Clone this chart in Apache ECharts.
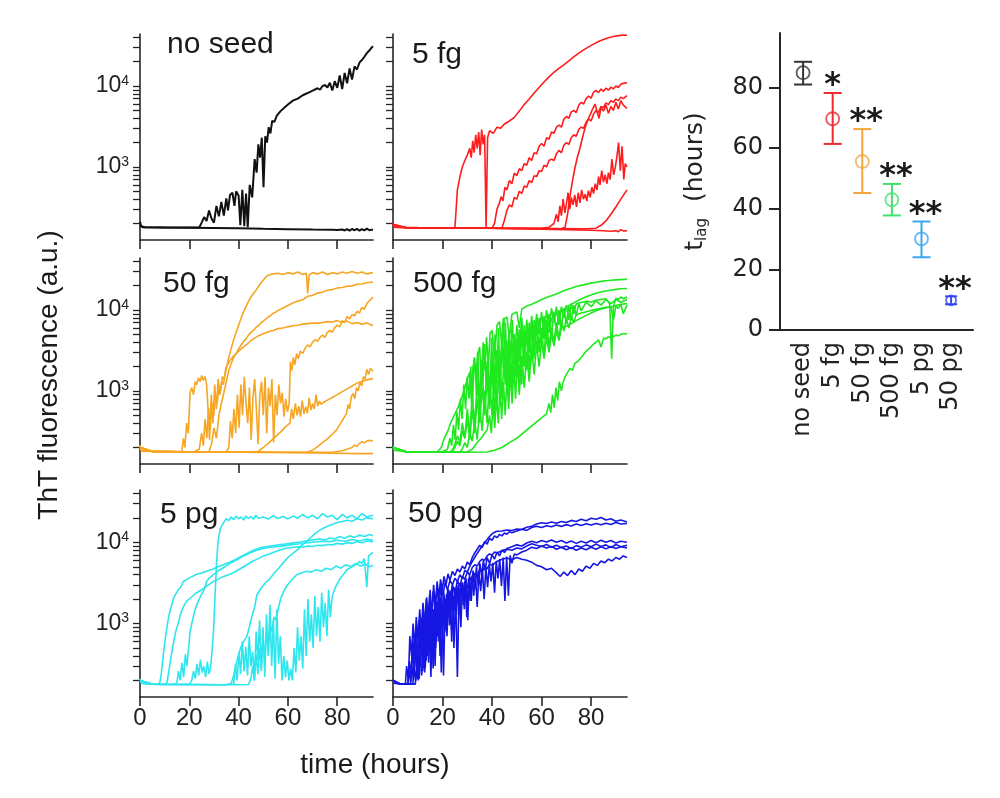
<!DOCTYPE html>
<html>
<head>
<meta charset="utf-8">
<script src="https://cdn.jsdelivr.net/npm/echarts@6/dist/echarts.min.js"></script>
<style>html,body{margin:0;padding:0;background:#fff}#c{width:1000px;height:798px}</style>
</head>
<body>
<div id="c"></div>
<script>
// ---------- data ----------
const panelTitles = ['no seed', '5 fg', '50 fg', '500 fg', '5 pg', '50 pg'];
const timeTicks = [0, 20, 40, 60, 80];
const logTickValues = [200,300,400,500,600,700,800,900,1000,2000,3000,4000,5000,6000,7000,8000,9000,10000,20000,30000,40000];
const logLabelValues = [1000, 10000];

// no seed
const ns1 = [[0,210],[0.5,185],[2,180],[10,178],[20,177],[30,176],[40,175],[50,172],[60,170],[70,168],[78,167],[80,166],[82,169],[83,164],[84,170],[85,163],[86,171],[87,165],[88,172],[89,163],[90,170],[91,164],[92,173],[93,165],[94,168],[94.5,166]];
const ns2 = [[0,190],[1,180],[10,179],[20,178],[24,178],[25,205],[26,240],[27,215],[28,290],[29,230],[30,205],[31,330],[32,245],[33,370],[34,250],[35,410],[35.7,290],[36.5,450],[37.5,480],[38.3,330],[39,500],[40,440],[40.7,190],[41.5,520],[42.3,185],[43,470],[43.7,180],[44.5,600],[45.5,420],[46.5,1250],[47.3,850],[48,1900],[48.7,1300],[49.4,2300],[50.1,560],[50.8,2400],[51.5,2000],[52.2,3100],[52.9,2600],[53.6,3700],[54.5,3600],[55.5,4300],[57,4900],[58.5,5400],[60,5900],[62,6600],[64,7000],[66,7700],[68,8200],[70,8800],[72,9400],[73,9000],[74,10000],[75,10300],[76,9600],[77,11000],[78,8800],[79,11500],[80,9500],[81,13500],[82,9200],[83,14500],[84,10800],[85,16500],[86,12000],[87,17500],[88,16000],[89,19500],[90,21000],[91,23000],[92,25500],[93,27500],[94,30000],[94.5,31000]];

// 5 fg
const r1 = [[0,200],[0.5,180],[5,178],[15,177],[25,177],[25.5,300],[26,520],[27,750],[28,1000],[29,1200],[30,1400],[31,1700],[31.6,1300],[32.2,2100],[32.8,1500],[33.4,2500],[34,1700],[34.6,2700],[35.2,1400],[35.8,2900],[36.4,1900],[37,2500],[37.6,180],[38.2,2300],[39,2800],[40.5,2600],[42,3100],[43.5,3000],[45,3400],[47,3700],[49,4100],[51,4900],[53,5900],[55,6900],[57,8200],[59,9600],[61,11200],[63,13000],[65,14800],[67,16500],[69,18300],[71,20500],[73,23000],[75,25500],[77,28000],[79,30500],[81,33000],[83,35500],[85,37500],[87,39500],[89,41000],[91,42000],[93,42800],[94.5,42500]];
const r2 = [[0,195],[5,178],[20,176],[35,175],[40,175],[41,200],[42,300],[43,360],[43.7,430],[44.4,380],[45.2,560],[46,520],[47,680],[48,620],[49,840],[50,780],[51,950],[52,900],[53,1100],[54,1050],[55,1300],[56,1200],[57,1500],[58,1450],[59,1800],[60,1950],[61,1800],[62,2300],[63,2200],[64,2700],[65,2600],[66,3100],[67,3300],[68,3100],[69,3900],[70,4200],[71,4000],[72,4800],[73,5000],[74,4700],[75,5800],[76,6300],[77,6000],[78,7000],[79,7500],[80,7100],[81,8400],[82,8800],[83,8300],[84,9200],[85,8600],[86,9400],[87,8900],[88,9700],[89,9200],[90,10000],[91,9600],[92,10500],[93,10800],[94.5,11000]];
const r3 = [[0,190],[5,178],[20,176],[40,175],[44,176],[45,220],[46,290],[47,340],[48,320],[49,420],[50,400],[51,500],[52,470],[53,580],[54,560],[55,680],[56,640],[57,780],[58,760],[59,900],[60,880],[61,1050],[62,1000],[63,1200],[64,1250],[65,1200],[66,1450],[67,1600],[68,1500],[69,1850],[70,2000],[71,1900],[72,2300],[73,2500],[74,2400],[75,2900],[76,3100],[77,3000],[78,3600],[79,3900],[80,3700],[81,4500],[82,5000],[83,4700],[84,5600],[85,5400],[86,6200],[87,5900],[88,6600],[89,6300],[90,6900],[91,6600],[92,7300],[93,7000],[94.5,7600]];
const r4 = [[0,195],[5,178],[20,176],[40,175],[60,173],[68,172],[69.5,180],[70.5,260],[71.4,420],[72.4,650],[73.4,950],[74.4,1300],[75.5,1700],[76.5,2300],[77.5,3000],[78.5,3700],[79.6,4400],[80.6,5200],[81.6,6000],[82.4,4800],[83.2,4000],[84,5400],[85,4900],[86,5800],[87,4600],[88,5600],[89,5000],[90,6300],[91,5200],[92,6600],[93,5800],[94.5,5300]];
const r5 = [[0,190],[5,178],[20,176],[40,175],[55,175],[60,176],[63,180],[65,200],[66,260],[66.7,210],[67.4,330],[68,250],[68.7,400],[69.4,270],[70.1,360],[70.7,480],[71.4,300],[72,420],[72.7,340],[73.4,450],[74.1,320],[74.8,480],[75.5,360],[76.2,520],[76.9,400],[77.6,460],[78.3,380],[78.9,510],[79.6,420],[80.3,560],[81,470],[81.7,620],[82.4,520],[83,760],[83.6,600],[84.3,900],[85,650],[85.7,800],[86.4,620],[87,850],[87.7,700],[88.4,1250],[89.1,800],[89.8,1000],[90.5,1400],[91.1,2000],[91.8,900],[92.5,1800],[93.2,700],[93.8,1100],[94.5,1000]];
const r6 = [[0,190],[5,178],[20,176],[40,175],[60,173],[78,172],[82,175],[84,190],[86,215],[88,260],[90,320],[92,400],[94.5,520]];
const r7 = [[0,205],[0.5,180],[10,178],[30,176],[50,173],[70,168],[80,165],[85,163],[88,160],[90,163],[91,158],[92,168],[93,162],[94.5,163]];

// 50 fg
const o1 = [[0,215],[0.5,185],[5,180],[15,178],[17,180],[17.6,260],[18.2,200],[18.9,400],[19.6,300],[20.3,950],[21,1100],[21.7,900],[22.4,1300],[23,1200],[23.7,1450],[24.4,1300],[25,1550],[25.7,1350],[26.4,1500],[27,1200],[27.6,600],[28.2,250],[28.9,900],[29.6,400],[30.3,1200],[31,600],[31.7,1400],[32.4,900],[33.1,1300],[33.8,1200],[34.5,1600],[35.2,2000],[36,2600],[37,3400],[38,4300],[39,5300],[40,6500],[41,8000],[42,9500],[43,11000],[44,12800],[45,14500],[46,16000],[47,17500],[48,19500],[49,21500],[50,23500],[51,25500],[52,27000],[54,28000],[56,28500],[58,27500],[60,29000],[62,28000],[64,29500],[66,27500],[67.5,28500],[68,16000],[68.6,27000],[70,29000],[72,28000],[74,29500],[76,27500],[78,29000],[80,28000],[82,29500],[84,28500],[86,30000],[88,28500],[90,29500],[92,28000],[94.5,29000]];
const o2 = [[0,200],[5,179],[15,177],[25,177],[28,178],[29,220],[30,350],[31,260],[32,500],[33,700],[34,950],[35,1300],[36,1800],[37,2200],[38,2600],[39,2900],[40,3300],[41,3700],[42,4100],[43,4400],[44,4900],[45,5300],[46,5600],[47,6100],[48,6400],[49,6900],[50,7300],[51,7700],[52,8200],[53,8600],[54,9100],[55,9400],[56,9900],[57,10200],[58,10600],[59,11000],[60,11400],[62,12200],[64,12900],[66,13400],[68,14800],[70,15200],[72,16200],[74,16600],[76,17600],[78,17900],[80,18700],[82,19000],[84,19700],[86,19900],[88,20800],[90,21000],[92,21800],[94.5,22200]];
const o3 = [[0,200],[5,179],[15,177],[22,177],[24,190],[25,300],[25.7,210],[26.4,450],[27.1,260],[27.8,620],[28.5,330],[29.2,700],[29.9,500],[30.6,850],[31.3,700],[32,1100],[32.7,1000],[33.4,1500],[34.1,1400],[34.8,1900],[35.5,2100],[36.5,2400],[37.5,2600],[38.5,2800],[39.5,3000],[40.5,3200],[42,3500],[43.5,3800],[45,4200],[46.5,4500],[48,4800],[50,5100],[52,5400],[54,5600],[56,5900],[58,6000],[60,6200],[62,6400],[64,6500],[66,6700],[68,6800],[70,6900],[72,6900],[74,7000],[76,7200],[78,7100],[80,7400],[82,7000],[84,7300],[86,6800],[88,7000],[90,6700],[92,6900],[94.5,6400]];
const o4 = [[0,200],[5,179],[15,177],[30,176],[35,177],[36,200],[36.7,420],[37.4,260],[38.1,600],[38.8,300],[39.5,900],[40.2,350],[40.9,1200],[41.6,500],[42.3,1500],[43,700],[43.7,400],[44.4,1100],[45.1,250],[45.8,800],[46.5,1400],[47.2,600],[47.9,220],[48.6,900],[49.3,1300],[50,500],[50.7,1500],[51.4,300],[52.1,1100],[52.8,650],[53.5,1400],[54.2,230],[54.9,900],[55.6,500],[56.3,1200],[57,700],[57.7,950],[58.4,480],[59.1,800],[59.8,550],[60.5,700],[61,2300],[61.6,1800],[62.2,2600],[62.8,2100],[63.5,2900],[64.2,2500],[65,3100],[66,2900],[67,3400],[68,3700],[69,3500],[70,4000],[71,4300],[72,4100],[73,4600],[74,4900],[75,4600],[76,5300],[77,5600],[78,5300],[79,6100],[80,6500],[81,6200],[82,7400],[83,7000],[84,8300],[85,7800],[86,8800],[87,8500],[88,9600],[89,9200],[90,10800],[91,10200],[92,12000],[93,13000],[94.5,14500]];
const o5 = [[0,200],[5,179],[15,177],[30,176],[45,176],[48,180],[50,200],[52,225],[54,255],[55.4,280],[57,310],[59,360],[60.8,400],[61.5,600],[62.2,450],[63,700],[63.7,500],[64.4,650],[65.1,480],[65.8,760],[66.5,520],[67.2,640],[67.9,530],[68.6,820],[69.3,580],[70,700],[70.7,600],[71.4,900],[72.1,650],[72.8,750],[73.5,680],[74.3,720],[76,770],[78,830],[80,900],[82,980],[84,1060],[86,1150],[88,1250],[90,1310],[92,1370],[94.5,1420]];
const o6 = [[0,200],[5,179],[20,177],[40,176],[60,175],[68,176],[70,185],[72,205],[74,230],[76,255],[78,290],[79.7,330],[81,380],[82.4,450],[83.7,520],[84.4,680],[85,600],[85.7,850],[86.4,930],[87.1,800],[87.8,1100],[88.5,1000],[89.2,1300],[89.9,1150],[90.6,1500],[91.3,1400],[92,1850],[92.7,1600],[93.4,1900],[94.5,1750]];
const o7 = [[0,200],[5,178],[20,177],[40,176],[60,175],[78,175],[80,178],[82,182],[84,190],[86,200],[87,215],[88,205],[89,225],[90,235],[91,228],[92,240],[93,245],[94.5,240]];
const o8 = [[0,210],[0.5,180],[10,178],[30,176],[50,174],[70,171],[90,168],[94.5,168]];

// 500 fg
const g1 = [[0,205],[0.5,185],[5,178],[10,176],[15,175],[18,178],[19.5,200],[20.5,250],[21.5,290],[22.5,340],[23.5,420],[24.5,480],[25.5,560],[26.5,650],[27.5,800],[28.2,900],[29,1100],[30,1400],[31,1700],[31.7,700],[32.3,2000],[33,2500],[33.7,900],[34.4,3000],[35,3500],[35.7,1200],[36.4,4000],[37.1,1800],[37.8,4600],[38.5,2000],[39.2,5200],[40,5600],[41,2600],[42,6500],[43,7200],[44,3500],[45,7800],[46,8200],[47,4500],[48,8800],[50,9500],[51,6000],[52,10300],[54,11200],[56,11800],[58,12600],[60,13500],[62,14300],[64,15000],[66,15800],[68,16800],[70,17800],[72,18600],[74,19500],[76,20200],[78,20900],[80,21500],[82,22100],[84,22600],[86,23000],[88,23400],[90,23600],[92,23800],[94.5,24000]];
const g2 = [[0,200],[5,178],[15,176],[20,177],[22,190],[23,260],[23.7,210],[24.4,380],[25.1,250],[25.8,550],[26.5,330],[27.2,800],[27.9,450],[28.6,1200],[29.3,600],[30,1500],[30.7,800],[31.4,2000],[32.1,700],[32.8,2600],[33.5,1500],[34.2,3000],[34.9,600],[35.6,2400],[36.3,1300],[37,3800],[37.7,900],[38.4,2600],[39.1,700],[39.8,4500],[40.5,1500],[41.2,5000],[41.9,1200],[42.6,6000],[43.3,1000],[44,4800],[44.7,1900],[45.4,7000],[46.1,1500],[46.8,5600],[47.5,2500],[48.2,7500],[49,2200],[50,6500],[51,3000],[52,8000],[53,2800],[54,7600],[55,3500],[56,8500],[57,4200],[58,9000],[59,5000],[60,9500],[61,4600],[62,10000],[63,6000],[64,10500],[65,7000],[66,11000],[67,6500],[68,11000],[69,8000],[70,11500],[71,7500],[72,12000],[73,9000],[74,12000],[76,12400],[78,12800],[80,12600],[82,13200],[84,13500],[86,13800],[87.5,12000],[88.3,2500],[89,11000],[90,14000],[91,13500],[92,14500],[93,13800],[94.5,14500]];
const g3 = [[0,200],[5,178],[15,176],[24,176],[25,200],[26,240],[27,210],[28,320],[29,260],[30,450],[31,250],[32,600],[33,300],[34,800],[35,400],[36,1100],[37,500],[38,1400],[39,600],[40,1900],[41,500],[42,2800],[43,900],[44,5000],[44.6,8000],[45.3,1200],[46,4200],[46.7,800],[47.4,3600],[48.1,1000],[48.8,5000],[49.5,1500],[50.2,4200],[51,1200],[52,6000],[53,2000],[54,5500],[55,1800],[56,6500],[57,2500],[58,7000],[59,3000],[60,6000],[61,2600],[62,7500],[63,3500],[64,6000],[65,4000],[66,7000],[67,4500],[68,7400],[69,5500],[70,7800],[71,6000],[72,8300],[73,7000],[74,8800],[76,9200],[78,9500],[80,9900],[82,10200],[84,10500],[86,10800],[88,11000],[89,7500],[90,11200],[91,10500],[92,11800],[93,9000],[94.5,11500]];
const g4 = [[0,200],[5,178],[15,176],[30,175],[38,176],[41,185],[44,200],[47,230],[50,260],[53,310],[56,370],[59,440],[62,520],[63,700],[63.7,540],[64.4,900],[65.1,620],[65.8,1100],[66.5,760],[67.2,1300],[68,1000],[68.6,1250],[69.5,1500],[70.5,1700],[71.5,1900],[72.5,1800],[73.5,2200],[74.5,2300],[75.3,2400],[76.5,2700],[78,3100],[79.5,3400],[81,3800],[82,4000],[83,4300],[84,3500],[85,4500],[86,4400],[87,4700],[88,4500],[89,4700],[90,4900],[91,4800],[92,5000],[93,5100],[94.5,5100]];
const g5 = [[0,200],[5,178],[15,176],[27,176],[28,190],[29,230],[30,200],[31,300],[32,240],[33,420],[34,250],[35,650],[36,320],[37,1000],[38,400],[39,1500],[40,500],[41,2200],[42,700],[43,2900],[44,800],[45,3500],[46,1100],[47,4200],[48,1300],[49,5000],[50,1600],[51,5800],[52,1200],[53,6500],[54,1800],[55,7000],[56,2400],[57,7500],[58,3000],[59,8000],[60,3600],[61,8500],[62,4200],[63,9000],[64,4800],[65,9500],[66,5200],[67,10000],[68,6000],[69,10500],[70,6800],[71,11000],[72,7500],[73,11500],[74,8500],[75,12000],[76,9800],[78,12500],[80,11000],[82,13000],[84,11500],[86,13500],[88,12000],[90,13500],[92,12500],[94.5,13500]];
const g6 = [[0,200],[5,178],[15,176],[23,176],[24,185],[25,220],[26,280],[27,230],[28,400],[29,260],[30,600],[31,300],[32,900],[33,380],[34,1300],[35,450],[36,1800],[37,600],[38,2300],[39,800],[40,2800],[41,900],[42,3200],[43,1200],[44,3600],[45,1400],[46,3900],[47,1700],[48,4100],[49,2000],[50,4400],[51,2300],[52,4700],[53,2600],[54,5000],[55,3000],[56,5300],[57,3300],[58,5700],[59,3800],[60,6000],[61,4400],[62,6900],[63,5200],[64,7800],[66,8800],[68,9800],[70,10800],[72,11800],[74,12800],[76,13700],[78,14600],[80,15400],[82,16100],[84,16700],[86,17200],[88,17600],[90,18000],[92,18300],[94.5,18500]];
const g7 = [[0,200],[5,178],[20,176],[30,176],[32,190],[34,230],[36,270],[38,330],[39,500],[39.7,300],[40.4,700],[41.1,350],[41.8,900],[42.5,400],[43.2,1100],[43.9,450],[44.6,1300],[45.3,500],[46,1500],[46.7,600],[47.4,1800],[48.1,700],[48.8,2000],[49.5,800],[50.2,2400],[51,900],[52,2700],[53,1100],[54,3000],[55,1300],[56,3400],[57,1600],[58,3800],[59,2000],[60,4200],[61,2500],[62,4600],[63,3000],[64,5000],[65,3600],[66,5500],[67,4200],[68,6000],[70,6300],[72,6800],[74,7400],[76,8000],[78,8600],[80,9200],[82,9800],[84,10300],[86,10700],[88,11000],[90,11400],[92,11800],[94.5,12000]];

// 5 pg
const c1 = [[0,210],[0.5,185],[3,180],[7,179],[8,185],[8.7,250],[9.4,400],[10.1,600],[10.8,850],[11.5,1150],[12.2,1450],[13,1750],[13.6,2050],[14.5,2300],[15.5,2600],[16.5,2800],[17.6,3300],[19,3500],[20.5,3700],[22,3900],[23.5,4100],[25,4200],[27,4400],[29,4600],[31,4900],[33,5200],[35,5500],[37,5800],[39,6200],[41,6700],[43,7200],[45,7700],[47,8200],[49,8600],[51,8800],[53,9000],[55,9200],[57,9400],[59,9500],[61,9700],[63,9900],[65,10100],[67,10400],[69,10600],[71,10800],[73,11000],[75,10700],[77,11300],[79,11000],[81,11800],[83,11200],[85,12000],[87,11500],[89,12300],[91,11800],[93,12500],[94.5,12000]];
const c2 = [[0,200],[5,179],[10,178],[11,190],[11.7,260],[12.4,360],[13.1,480],[13.8,620],[14.5,800],[15.5,1000],[16.3,1270],[17.2,1500],[18,1700],[19,1900],[20.3,2050],[21.5,2200],[23,2400],[24.5,2550],[25.7,2700],[27,2900],[28.5,3100],[29.8,3300],[31.5,3500],[33,3700],[35,3900],[37,4100],[39,4400],[41,4800],[43.4,5300],[45.5,5800],[48,6300],[50,6800],[52,7100],[54,7500],[56,7900],[58,8300],[60,8500],[62,8700],[64,8800],[66,8700],[68,9000],[70,8900],[72,9200],[74,9100],[76,9400],[78,9300],[80,9700],[82,9500],[84,9900],[86,9700],[88,10200],[90,9900],[92,10400],[94.5,10200]];
const c3 = [[0,200],[5,179],[14,178],[15,190],[15.6,260],[16.3,200],[17,330],[17.7,220],[18.4,420],[19,300],[19.7,500],[20.3,790],[21,1000],[21.7,1250],[22.4,1500],[23,1700],[24,2000],[25,2300],[26,2600],[27,3300],[28,3600],[29.8,4000],[31.5,4400],[33.9,4900],[36.5,5500],[39.3,6100],[42,6800],[45,7500],[47.4,8000],[50,8400],[53,8700],[56,8900],[59,9100],[62,9400],[65,9600],[68,9900],[71,10100],[74,10300],[77,10200],[80,10600],[83,10300],[86,10800],[89,10400],[92,11000],[94.5,10600]];
const c4 = [[0,200],[5,179],[15,178],[20,178],[21,200],[21.7,260],[22.4,210],[23.1,320],[23.8,230],[24.5,360],[25.2,250],[25.9,300],[26.6,220],[27.3,340],[28,240],[28.7,300],[29.3,500],[29.8,790],[30.4,2050],[31,5300],[31.7,10500],[32.5,14500],[33.9,17500],[35,19500],[36,18500],[37,20500],[38,19000],[39,21000],[40,19500],[41,20500],[42,18800],[43,21000],[44,19500],[45,20800],[46,19200],[47,21500],[48,19800],[50,20500],[52,19300],[54,21200],[56,19600],[58,20800],[60,19400],[62,21000],[64,19800],[66,22000],[68,20000],[70,21500],[72,19500],[74,22500],[76,20500],[78,21500],[80,19000],[82,22000],[84,20000],[86,21500],[88,19500],[90,22500],[92,20500],[94.5,21500]];
const c5 = [[0,200],[5,179],[20,178],[35,177],[37,185],[38,230],[39,320],[40,420],[41,520],[42,600],[43.4,700],[44.5,950],[45.5,1270],[46.5,1600],[47.4,2250],[49,2700],[51,3200],[52.8,3600],[54.5,4200],[56.5,4900],[58.3,5700],[60,6500],[62,7300],[63.7,8000],[65.5,9100],[67.5,10300],[69.1,11300],[71,12800],[72.8,14000],[74.5,15000],[76.5,16000],[78.5,16800],[80,17500],[82,18000],[84,18700],[86,18200],[88,19500],[90,18800],[92,20000],[94.5,19500]];
const c6 = [[0,200],[5,179],[20,178],[40,177],[44,178],[45,210],[45.7,300],[46.4,200],[47.1,420],[47.8,240],[48.5,500],[49.2,280],[49.9,650],[50.6,350],[51.3,800],[52,450],[52.8,950],[53.6,800],[54.3,1200],[55,1100],[56,1500],[57,2000],[58.3,2490],[59.5,2900],[61,3300],[62.5,3700],[63.7,4020],[65.5,4200],[67.5,4400],[69.5,4300],[71.5,4600],[73.5,4400],[75.5,4800],[77.5,4600],[79.5,5100],[81.5,4800],[83.5,5300],[85.5,5000],[87.5,5500],[89.5,5100],[91.5,5400],[93,5000],[94.5,5200]];
const c7 = [[0,200],[5,179],[20,178],[35,177],[38,180],[38.7,320],[39.4,200],[40.1,450],[40.8,240],[41.5,600],[42.2,260],[42.9,520],[43.6,230],[44.3,700],[45,300],[45.7,450],[46.4,200],[47.1,800],[47.8,350],[48.5,1100],[49.2,260],[49.9,900],[50.6,220],[51.3,1300],[52,400],[52.7,1700],[53.4,300],[54.1,1100],[54.8,210],[55.5,1500],[56.2,320],[56.9,700],[57.6,200],[58.3,400],[59,220],[59.7,350],[60.4,200],[61.1,280],[61.8,200],[62.5,500],[63.2,250],[63.9,900],[64.6,350],[65.3,700],[66,280],[66.7,1500],[67.4,400],[68.1,2000],[68.8,600],[69.5,1300],[70.2,500],[70.9,2200],[71.6,700],[72.3,1600],[73,600],[73.7,2400],[74.4,900],[75.1,1800],[75.8,700],[76.5,2600],[77.2,1200],[77.9,2100],[78.6,2500],[79.5,2900],[80.5,3300],[81.5,3700],[82.7,4100],[84,4600],[85.5,4900],[87,5200],[88,5400],[89,5800],[90,5500],[91,6300],[92,2800],[92.7,6800],[93.5,6500],[94.5,7500]];

// 50 pg
const b1 = [[0,205],[0.5,185],[3,180],[5,180],[5.5,300],[6.2,200],[6.8,700],[7.5,400],[8.1,1000],[8.8,500],[9.4,1200],[10.1,650],[10.8,1500],[11.4,700],[12.1,1800],[12.8,900],[13.4,2000],[14.1,1100],[14.8,2300],[15.5,1300],[16.2,2500],[17,1500],[17.8,2800],[18.6,1700],[19.4,3000],[20.2,2200],[21,3200],[22,2600],[23,3400],[24,3000],[25,3600],[26,3300],[27,4000],[28,3600],[29,4500],[30,4300],[31,5100],[32,5800],[33,6500],[34,7300],[35,8100],[36,9000],[37,9900],[38,10800],[39,11800],[40,12700],[41,13300],[42,13700],[44,13800],[46,14200],[48,14000],[50,14600],[52,14400],[54,15300],[56,15800],[58,16800],[60,17400],[62,17000],[64,17800],[66,17200],[68,18000],[70,17500],[72,18600],[74,18000],[76,19200],[78,18400],[80,19800],[82,19200],[84,20200],[86,18800],[88,19500],[90,18200],[92,18800],[94.5,17800]];
const b2 = [[0,200],[3,180],[6,180],[6.5,260],[7.2,190],[7.9,500],[8.6,230],[9.3,800],[10,300],[10.7,1100],[11.4,400],[12.1,900],[12.8,250],[13.5,1400],[14.2,500],[14.9,1700],[15.6,600],[16.3,1500],[17,300],[17.7,1900],[18.4,800],[19.1,2100],[19.8,1000],[20.5,2400],[21.3,1300],[22.1,2700],[23,1800],[24,3000],[25,2300],[26,3400],[27,2900],[28,3800],[29,3500],[30,4300],[31,4000],[32,4900],[33,5300],[34,5100],[35,5800],[36,6200],[37,6000],[38,6800],[39,7200],[40,7000],[41,7600],[42,7400],[44,7900],[46,8200],[48,8000],[50,8500],[52,8300],[54,9000],[56,9600],[58,9200],[60,8900],[62,9400],[64,8700],[66,9200],[68,8600],[70,9000],[72,8400],[74,9100],[76,8700],[78,9300],[80,8800],[82,9500],[84,8900],[86,9300],[88,8600],[90,9400],[92,8800],[94.5,9200]];
const b3 = [[0,200],[3,180],[7,180],[7.6,300],[8.3,200],[9,600],[9.7,240],[10.4,900],[11.1,350],[11.8,1200],[12.5,280],[13.2,1000],[13.9,400],[14.6,1500],[15.3,220],[16,1300],[16.7,500],[17.4,1800],[18.1,700],[18.8,2000],[19.5,250],[20.2,1600],[20.9,900],[21.6,2300],[22.3,1200],[23,2500],[23.7,600],[24.4,2200],[25.1,1400],[25.8,2800],[26.5,1700],[27.2,3000],[28,2200],[29,3300],[30,2700],[31,3700],[32,3200],[33,4200],[34,3800],[35,4600],[36,4300],[37,5000],[38,4700],[39,5400],[40,5200],[42,5800],[44,6200],[46,6400],[48,6100],[50,6500],[52,6200],[54,6000],[56,5700],[58,5200],[60,5000],[62,4600],[64,4800],[66,4200],[67.5,3800],[69,4300],[70.5,3900],[72,4500],[73.5,4000],[75,4700],[76.5,4400],[78,5100],[79.5,4800],[81,5500],[82.5,5200],[84,5900],[85.5,5600],[87,6200],[88.5,5900],[90,6500],[91.5,6200],[93,6800],[94.5,6500]];
const b4 = [[0,200],[3,180],[8,180],[8.5,280],[9.2,200],[9.9,450],[10.6,210],[11.3,700],[12,260],[12.7,1000],[13.4,350],[14.1,1300],[14.8,450],[15.5,1600],[16.2,280],[16.9,1900],[17.6,600],[18.3,2200],[19,400],[19.7,2500],[20.4,230],[21.1,2000],[21.8,700],[22.5,2600],[23.2,1000],[23.9,2900],[24.6,500],[25.3,2400],[26,220],[26.7,2700],[27.4,900],[28.1,3200],[28.8,1500],[29.5,3600],[30.2,1100],[30.9,4000],[31.6,1900],[32.3,4500],[33,2600],[33.7,5000],[34.4,3000],[35.1,5500],[35.8,3800],[36.5,6000],[37.2,4500],[38,6500],[39,5500],[40,7000],[41,6200],[42,7600],[43,6800],[44,8000],[45,7500],[46,8400],[48,8800],[50,9300],[52,9000],[54,9800],[56,10300],[58,9900],[60,10500],[62,10100],[64,10700],[66,10000],[68,10500],[70,9800],[72,10400],[74,9700],[76,10300],[78,9800],[80,10500],[82,9900],[84,10600],[86,10000],[88,10500],[90,9800],[92,10300],[94.5,10000]];
const b5 = [[0,200],[3,180],[6,180],[6.6,350],[7.3,230],[8,650],[8.7,300],[9.4,950],[10.1,220],[10.8,1300],[11.5,500],[12.2,1700],[12.9,350],[13.6,2100],[14.3,800],[15,2600],[15.7,1200],[16.4,3000],[17.1,1600],[17.8,3300],[18.5,2100],[19.2,3500],[19.9,2600],[20.6,3800],[21.4,3000],[22.2,4100],[23,3400],[24,4400],[25,3900],[26,4700],[27,4300],[28,5100],[29,4700],[30,5700],[31,5300],[32,6500],[33,7400],[34,8200],[35,9200],[36,8600],[37,10200],[38,9500],[39,11200],[40,10600],[41,12000],[42,11400],[43,12500],[44,12000],[45,13000],[46,12600],[47,13500],[48,13100],[50,13800],[52,14500],[54,14000],[56,15200],[58,15800],[60,15200],[62,16000],[64,15500],[66,16300],[68,15700],[70,16500],[72,15900],[74,16800],[76,16100],[78,16900],[80,16300],[82,17000],[84,16400],[86,17200],[88,16600],[90,17500],[92,16800],[94.5,17000]];
const b6 = [[0,200],[3,180],[9,180],[9.5,260],[10.2,200],[10.9,420],[11.6,230],[12.3,600],[13,280],[13.7,850],[14.4,330],[15.1,1100],[15.8,400],[16.5,1300],[17.2,500],[17.9,1600],[18.6,600],[19.3,1900],[20,700],[20.7,2100],[21.4,800],[22.1,2400],[22.8,950],[23.5,2600],[24.2,1100],[24.9,2800],[25.6,1300],[26.3,3000],[27,1500],[27.7,3200],[28.4,1700],[29.1,3400],[29.8,1200],[30.5,3600],[31.2,1900],[31.9,3900],[32.6,2200],[33.3,4200],[34,1600],[34.7,4400],[35.4,2500],[36.1,4700],[36.8,2000],[37.5,5000],[38.2,2800],[38.9,5300],[39.6,3300],[40.3,5600],[41,2400],[41.7,5900],[42.4,3600],[43.1,6200],[43.8,2900],[44.5,6500],[45.2,1900],[45.9,6700],[46.6,2200],[47.3,6900],[48,5500],[49,7200],[50,7000],[52,7600],[54,8000],[56,8700],[58,8400],[60,9000],[62,8500],[64,8900],[66,8200],[68,8700],[70,8100],[72,8600],[74,8000],[76,8500],[78,8100],[80,8700],[82,8200],[84,8800],[86,8300],[88,8900],[90,8400],[92,8800],[94.5,8500]];

const panelTraces = [
  [ns1, ns2],
  [r7, r6, r5, r4, r3, r2, r1],
  [o8, o7, o6, o5, o4, o3, o2, o1],
  [g4, g7, g3, g2, g5, g6, g1],
  [c7, c6, c5, c3, c2, c1, c4],
  [b3, b4, b6, b2, b5, b1]
];
const panelColors = ['#111111', '#ff1c1c', '#f6a624', '#1fe81f', '#2de6ee', '#1717e3'];

// lag time panel
const seedLabels = ['no seed', '5 fg', '50 fg', '500 fg', '5 pg', '50 pg'];
const tlagMean = [84.9, 69.7, 55.6, 43.0, 30.1, 9.8];
const tlagLow  = [81.0, 61.4, 45.2, 37.8, 24.0, 8.5];
const tlagHigh = [88.5, 78.2, 66.3, 48.2, 35.8, 11.1];
const tlagSig  = ['', '*', '**', '**', '**', '**'];
const tlagTicks = [0, 20, 40, 60, 80];
const tlagColors = ['#333333', '#ee2b2e', '#f2a63c', '#3fe36c', '#3aa6f2', '#3447ef'];

// ---------- layout ----------
const FONT = 'Liberation Sans, Arial, sans-serif';
const FONT2 = 'DejaVu Sans, sans-serif';
const AX = '#262626';
const grids = [
  {left:140, top:34,  width:233, height:206},
  {left:393, top:34,  width:234, height:206},
  {left:140, top:258, width:233, height:206},
  {left:393, top:258, width:234, height:206},
  {left:140, top:490, width:233, height:207},
  {left:393, top:490, width:234, height:207},
  {left:780, top:33,  width:193, height:297}
];
const titlePos = [[167,45],[412,55],[163,284],[413,284],[160,515],[408,514]];

const xAxes = [], yAxes = [], series = [];
for (let k = 0; k < 6; k++) {
  const bottomRow = k >= 4, leftCol = k % 2 === 0;
  xAxes.push({
    type:'value', gridIndex:k, min:0, max:94.5,
    axisLine:{show:true, onZero:false, lineStyle:{color:AX, width:1.6}},
    axisTick:{show:true, inside:false, length:9, customValues:timeTicks, lineStyle:{color:AX, width:1.6}},
    axisLabel:{show:bottomRow, customValues:timeTicks, margin:9, fontSize:24, fontFamily:FONT, color:'#222'},
    splitLine:{show:false}
  });
  yAxes.push({
    type:'log', logBase:10, gridIndex:k, min:125, max:44000,
    axisLine:{show:true, onZero:false, lineStyle:{color:AX, width:1.6}},
    axisTick:{show:true, inside:false, length:7, customValues:logTickValues, lineStyle:{color:AX, width:1.3}},
    axisLabel:{show:leftCol, customValues:logLabelValues, margin:11,
      formatter:function(v){ return '{b|10}{s|' + Math.round(Math.log10(v)) + '}'; },
      rich:{b:{fontSize:23, fontFamily:FONT, color:'#222', lineHeight:24},
            s:{fontSize:14, fontFamily:FONT, color:'#222', verticalAlign:'top', lineHeight:18}}},
    splitLine:{show:false}, minorTick:{show:false}
  });
  panelTraces[k].forEach(function(tr){
    series.push({type:'line', xAxisIndex:k, yAxisIndex:k, data:tr, symbol:'none', showSymbol:false,
      lineStyle:{color:panelColors[k], width:k===0?2:1.6}, silent:true, clip:true});
  });
}
xAxes.push({
  type:'value', gridIndex:6, min:-0.78, max:5.74,
  axisLine:{show:true, onZero:false, lineStyle:{color:AX, width:2}},
  axisTick:{show:false},
  axisLabel:{show:true, customValues:[0,1,2,3,4,5], rotate:90, margin:12, fontSize:24, fontFamily:FONT2, color:'#222',
    formatter:function(v){ return seedLabels[Math.round(v)]; }},
  splitLine:{show:false}
});
yAxes.push({
  type:'value', gridIndex:6, min:0, max:98,
  name:'{t|t}{l|lag}{t|  (hours)}', nameLocation:'middle', nameGap:70, nameRotate:90,
  nameTextStyle:{rich:{t:{fontSize:25, fontFamily:FONT2, color:'#222', lineHeight:30},
                       l:{fontSize:15, fontFamily:FONT2, color:'#222', verticalAlign:'bottom', lineHeight:12}}},
  axisLine:{show:true, onZero:false, lineStyle:{color:AX, width:2}},
  axisTick:{show:true, inside:false, length:11, customValues:tlagTicks, lineStyle:{color:AX, width:2}},
  axisLabel:{show:true, customValues:tlagTicks, margin:17, fontSize:24, fontFamily:FONT2, color:'#222'},
  splitLine:{show:false}
});

const errData = seedLabels.map(function(_, i){ return [i, tlagLow[i], tlagHigh[i]]; });
series.push({
  type:'custom', xAxisIndex:6, yAxisIndex:6, data:errData, silent:true, z:3,
  renderItem:function(params, api){
    const i = params.dataIndex;
    const lo = api.coord([api.value(0), api.value(1)]);
    const hi = api.coord([api.value(0), api.value(2)]);
    const w = i === 5 ? 6 : 9;
    const st = {stroke:tlagColors[i], lineWidth:2, fill:null};
    return {type:'group', children:[
      {type:'line', shape:{x1:lo[0], y1:lo[1], x2:hi[0], y2:hi[1]}, style:st},
      {type:'line', shape:{x1:hi[0]-w, y1:hi[1], x2:hi[0]+w, y2:hi[1]}, style:st},
      {type:'line', shape:{x1:lo[0]-w, y1:lo[1], x2:lo[0]+w, y2:lo[1]}, style:st}
    ]};
  }
});
series.push({
  type:'scatter', xAxisIndex:6, yAxisIndex:6, silent:true, z:4,
  data: tlagMean.map(function(m, i){
    return {value:[i, m], symbolSize: i === 5 ? 10 : 13,
      itemStyle:{color:'rgba(0,0,0,0)', borderColor:tlagColors[i], borderWidth:1.8}};
  }),
  symbol:'circle'
});
series.push({
  type:'custom', xAxisIndex:6, yAxisIndex:6, silent:true, z:5,
  data: seedLabels.map(function(_, i){ return [i, tlagHigh[i]]; }),
  renderItem:function(params, api){
    const i = params.dataIndex;
    const p = api.coord([api.value(0), api.value(1)]);
    const s = tlagSig[i];
    return {type:'text', x:p[0] + (s.length > 1 ? 4 : 0), y:p[1] - 7,
      style:{text:s, fill:'#1a1a1a', font:'bold 32px DejaVu Sans', fontSize:32, fontWeight:'bold', fontFamily:FONT2,
             align:'center', verticalAlign:'middle', textAlign:'center', textVerticalAlign:'middle'}};
  }
});

const graphics = panelTitles.map(function(t, k){
  return {type:'text', x:titlePos[k][0], y:titlePos[k][1], silent:true,
    style:{text:t, fill:'#1a1a1a', font:'30px ' + FONT, fontSize:30, fontFamily:FONT,
           align:'left', verticalAlign:'middle', textAlign:'left', textVerticalAlign:'middle'}};
});
graphics.push({type:'text', x:49, y:375, rotation:Math.PI/2, silent:true,
  style:{text:'ThT fluorescence (a.u.)', fill:'#1a1a1a', font:'28px ' + FONT, fontSize:28, fontFamily:FONT,
         align:'center', verticalAlign:'middle', textAlign:'center', textVerticalAlign:'middle'}});
graphics.push({type:'text', x:375, y:765, silent:true,
  style:{text:'time (hours)', fill:'#1a1a1a', font:'28px ' + FONT, fontSize:28, fontFamily:FONT,
         align:'center', verticalAlign:'middle', textAlign:'center', textVerticalAlign:'middle'}});

const chart = echarts.init(document.getElementById('c'), null, {renderer:'canvas'});
chart.setOption({
  backgroundColor:'#ffffff',
  animation:false,
  grid:grids,
  xAxis:xAxes,
  yAxis:yAxes,
  series:series,
  graphic:{elements:graphics}
});
</script>
</body>
</html>
